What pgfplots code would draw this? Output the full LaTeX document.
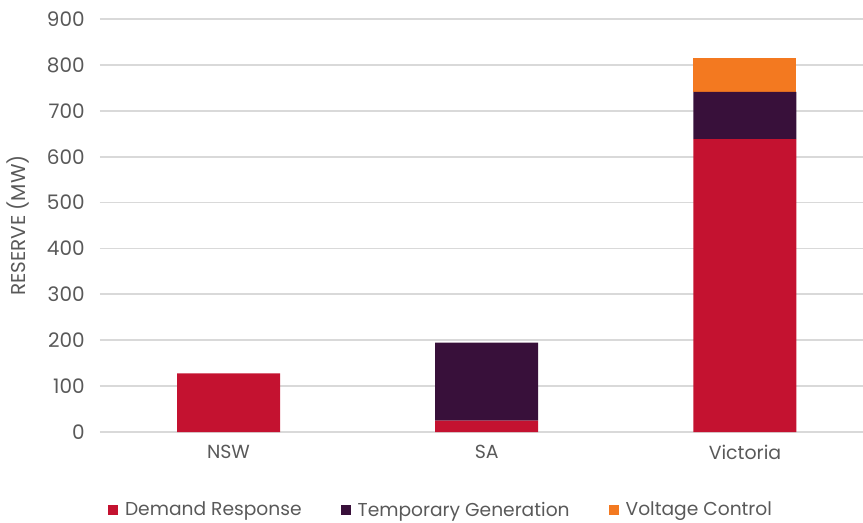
\documentclass[border=0pt]{standalone}
\usepackage{fontspec}
\setmainfont{Poppins}
\usepackage{pgfplots}
\pgfplotsset{compat=1.18}
\definecolor{dr}{RGB}{196,18,48}
\definecolor{tg}{RGB}{56,16,58}
\definecolor{vc}{RGB}{243,121,32}
\definecolor{txt}{RGB}{89,89,89}
\definecolor{grd}{RGB}{217,217,217}
\begin{document}
\begin{tikzpicture}
\path[use as bounding box] (-75pt,-67.5pt) rectangle (572.25pt,324pt);
\begin{axis}[
  at={(0,0)}, anchor=south west,
  scale only axis,
  width=572.25pt, height=309.75pt,
  ybar stacked, bar width=77.25pt,
  xmin=-0.4976, xmax=2.457,
  ymin=0, ymax=900,
  ytick={0,100,...,900},
  xtick=data, xticklabels={NSW,SA,Victoria},
  axis line style={draw=none},
  tick style={draw=none},
  ymajorgrids, major grid style={grd, line width=1.3pt},
  /pgf/number format/assume math mode=true,
  yticklabel style={font=\fontsize{15}{18}\selectfont, text=txt, xshift=-8pt},
  xticklabel style={font=\fontsize{14.2}{18}\selectfont, text=txt, yshift=-6pt},
  ylabel={RESERVE (MW)},
  every axis y label/.style={at={(rel axis cs:0,0.5)}, rotate=90, anchor=center,
    yshift=61.5pt, font=\fontsize{15}{18}\selectfont, text=txt},
  clip=false,
  legend columns=3,
  legend style={at={(0.4476,-0.1889)}, anchor=center, draw=none, fill=none,
    font=\fontsize{14}{18}\selectfont, text=txt,
    /tikz/every even column/.append style={column sep=27.5pt}},
  legend image code/.code={\fill[#1] (0pt,-3.75pt) rectangle (7.5pt,3.75pt); \path (10.5pt,0pt);},
]
\addplot[fill=dr, draw=none] coordinates {(0,128) (1,25) (2,638)};
\addplot[fill=tg, draw=none] coordinates {(0,0) (1,170) (2,103)};
\addplot[fill=vc, draw=none] coordinates {(0,0) (1,0) (2,74)};
\legend{Demand Response, Temporary Generation, Voltage Control}
\end{axis}
\end{tikzpicture}
\end{document}
